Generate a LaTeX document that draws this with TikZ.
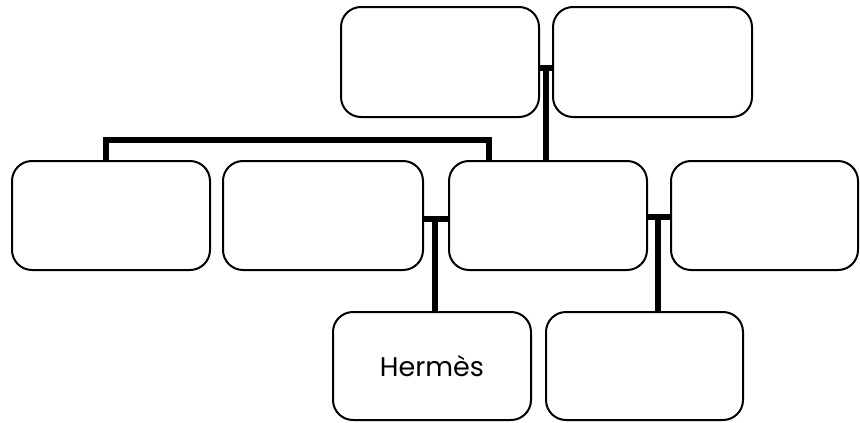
\documentclass[tikz,border=0pt]{standalone}
\usepackage{fontspec}
\setmainfont{Poppins}
\begin{document}
\begin{tikzpicture}[x=1pt,y=-1pt,
  box/.style={draw=black, line width=2pt, rounded corners=20pt, fill=white, inner sep=0pt},
  conn/.style={draw=black, line width=5.5pt}]
\useasboundingbox (0,0) rectangle (860,423);
% top row
\node[box, minimum width=198pt, minimum height=110pt] (A) at (440,62) {};
\node[box, minimum width=199pt, minimum height=110pt] (B) at (652.5,62) {};
% middle row
\node[box, minimum width=198pt, minimum height=109pt] (D) at (111,215.5) {};
\node[box, minimum width=200pt, minimum height=109pt] (E) at (323,215.5) {};
\node[box, minimum width=198pt, minimum height=109pt] (C) at (548,215.5) {};
\node[box, minimum width=187pt, minimum height=109pt] (F) at (764.5,215.5) {};
% bottom row
\node[box, minimum width=198pt, minimum height=108pt, font=\fontsize{27}{32}\selectfont] (G) at (432,366) {Hermès};
\node[box, minimum width=197pt, minimum height=108pt] (H) at (644.5,366) {};
% connectors
\coordinate (jab) at (546,68);
\draw[conn] (A.east |- jab) -- (B.west |- jab);
\draw[conn] (jab) -- (jab |- C.north);
\coordinate (bl) at (106,140);
\coordinate (br) at (489,140);
\draw[conn] (bl |- D.north) -- (bl) -- (br) -- (br |- C.north);
\coordinate (jec) at (435,219);
\draw[conn] (E.east |- jec) -- (C.west |- jec);
\draw[conn] (jec) -- (jec |- G.north);
\coordinate (jcf) at (658,217);
\draw[conn] (C.east |- jcf) -- (F.west |- jcf);
\draw[conn] (jcf) -- (jcf |- H.north);
\end{tikzpicture}
\end{document}
